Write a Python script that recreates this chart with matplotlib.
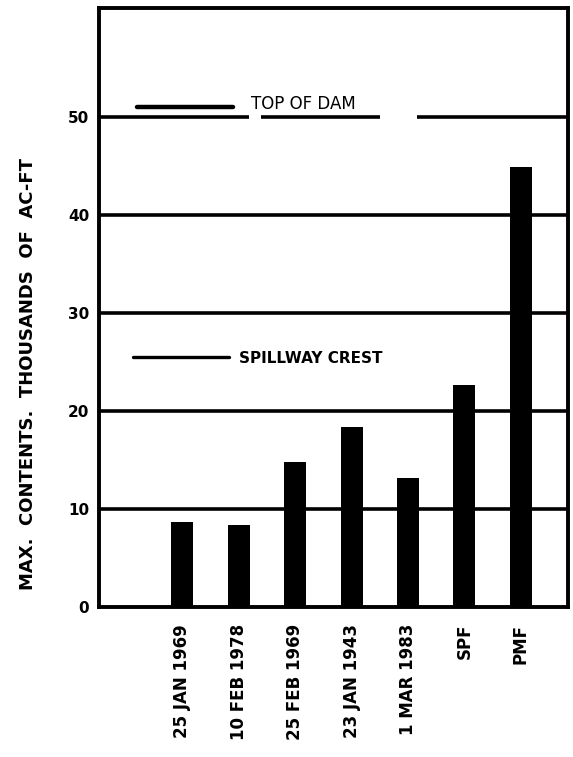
import matplotlib
matplotlib.use("Agg")
import matplotlib.pyplot as plt
import numpy as np

plt.rcParams['font.family'] = ['DejaVu Sans']

# Peak reservoir contents (thousands of acre-feet) for each flood event
events = ["25 JAN 1969", "10 FEB 1978", "25 FEB 1969", "23 JAN 1943",
          "1 MAR 1983", "SPF", "PMF"]
max_contents = [8.7, 8.4, 14.8, 18.4, 13.2, 22.7, 44.9]

# Reference levels
top_of_dam = 51.0
spillway_crest = 25.5
grid_levels = [10, 20, 30, 40]
y_ticks = [0, 10, 20, 30, 40, 50]

fig = plt.figure(figsize=(5.73, 7.57), dpi=100)
ax = fig.add_axes([0.1728, 0.198, 0.8185, 0.791])

x = np.arange(len(events))
ax.bar(x, max_contents, width=0.39, color="black", zorder=3)

ax.set_xlim(-1.48, 6.84)
ax.set_ylim(0, 61.1)

# horizontal rules
for g in grid_levels:
    ax.axhline(g, color="black", lw=2.6, zorder=2)
# the 50 rule is broken around the dam label
for x0, x1 in [(-1.48, 1.18), (1.39, 3.5), (4.16, 6.84)]:
    ax.plot([x0, x1], [50, 50], color="black", lw=2.6,
            solid_capstyle="butt", zorder=2)

# level markers with their labels
ax.plot([-0.80, 0.89], [top_of_dam, top_of_dam], color="black", lw=3.2,
        solid_capstyle="round", zorder=2)
ax.text(1.21, top_of_dam + 0.35, "TOP OF DAM", fontsize=12,
        va="center", ha="left")
ax.plot([-0.875, 0.82], [spillway_crest, spillway_crest], color="black",
        lw=2.4, solid_capstyle="round", zorder=2)
ax.text(1.0, spillway_crest - 0.15, "SPILLWAY CREST", fontsize=11,
        fontweight="bold", va="center", ha="left")

for side in ["left", "right", "top", "bottom"]:
    ax.spines[side].set_linewidth(2.8)

ax.set_yticks(y_ticks)
ax.set_yticklabels([str(v) for v in y_ticks], fontsize=11, fontweight="bold")
ax.set_xticks(x)
ax.set_xticklabels(events, rotation=90, fontsize=12, fontweight="bold",
                   va="top")
ax.tick_params(length=0, pad=7)
ax.tick_params(axis="x", pad=12)

ax.set_ylabel("MAX.  CONTENTS.  THOUSANDS  OF  AC-FT", fontsize=13,
              fontweight="bold")
ax.yaxis.set_label_coords(-0.132, 0.39)

fig.savefig("out.png", dpi=100)
